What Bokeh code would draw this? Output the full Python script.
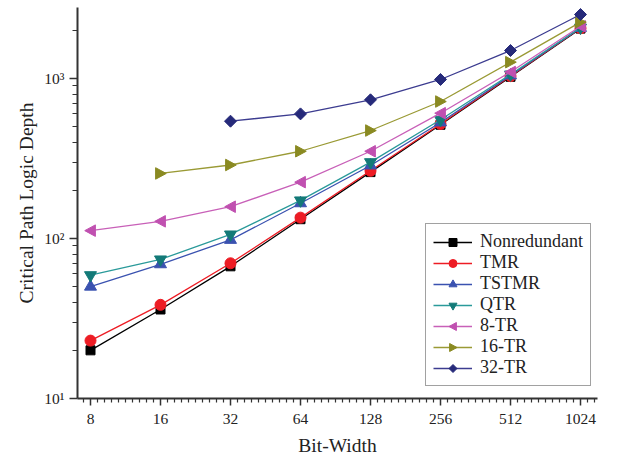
import math
from bokeh.plotting import figure
from bokeh.models import FixedTicker, Range1d, PrintfTickFormatter, Legend, CustomJS
from bokeh.embed import file_html
from bokeh.resources import INLINE

# ---- data ----
bit_widths = [8, 16, 32, 64, 128, 256, 512, 1024]
nonredundant = [20, 36, 67, 132, 260, 514, 1025, 2050]
tmr = [23, 38.5, 70, 135, 265, 520, 1035, 2060]
tstmr = [50, 69, 98, 166, 286, 531, 1045, 2070]
qtr = [59, 74, 106, 173, 300, 552, 1060, 2080]
tr8 = [112, 128, 158, 225, 351, 607, 1098, 2120]
tr16_x = [16, 32, 64, 128, 256, 512, 1024]
tr16 = [255, 288, 351, 473, 718, 1265, 2250]
tr32_x = [32, 64, 128, 256, 512, 1024]
tr32 = [541, 601, 736, 986, 1496, 2512]

y_major = [10, 100, 1000]
y_labels = {10: "10¹", 100: "10²", 1000: "10³"}

# name, x, y, line colour, marker colour, marker, size
series = [
    ("Nonredundant", bit_widths, nonredundant, "#000000", "#000000", "square", 9),
    ("TMR", bit_widths, tmr, "#ed1c24", "#ed1c24", "circle", 11),
    ("TSTMR", bit_widths, tstmr, "#3a52b0", "#3a52b0", "triangle", 12),
    ("QTR", bit_widths, qtr, "#2a9a9a", "#137a78", "inverted_triangle", 12),
    ("8-TR", bit_widths, tr8, "#c860b8", "#c050b0", "@tri_left", 11.5),
    ("16-TR", tr16_x, tr16, "#9a9a35", "#8a8a22", "@tri_right", 11.5),
    ("32-TR", tr32_x, tr32, "#3c3c90", "#262a7a", "@rhomb", 12),
]

def marker_js(points):
    pts = ", ".join(f"[{a}, {b}]" for a, b in points)
    return CustomJS(code=f"""
export default (...argv) => {{
  let ctx = null, i = 0, r = 5, visuals = null
  for (const a of argv) {{
    if (a != null && typeof a === "object" && "ctx" in a) {{
      ctx = a.ctx; i = a.i; r = a.r; visuals = a.visuals
    }}
  }}
  if (ctx == null && argv.length >= 4 && argv[0] != null && typeof argv[0].beginPath === "function") {{
    ctx = argv[0]; i = argv[1]; r = argv[2]; visuals = argv[3]
  }}
  if (ctx == null) return
  const pts = [{pts}]
  ctx.beginPath()
  ctx.moveTo(pts[0][0] * r, pts[0][1] * r)
  for (let k = 1; k < pts.length; k++) ctx.lineTo(pts[k][0] * r, pts[k][1] * r)
  ctx.closePath()
  visuals.fill.apply(ctx, i)
  visuals.line.apply(ctx, i)
}}
""")

marker_defs = {
    "@tri_left": marker_js([(-1, 0), (0.85, -1.0), (0.85, 1.0)]),
    "@tri_right": marker_js([(1, 0), (-0.85, -1.0), (-0.85, 1.0)]),
    "@rhomb": marker_js([(0, -1), (1, 0), (0, 1), (-1, 0)]),
}

FONT = "Liberation Serif"

FRAME_W = 520
FRAME_H = 391
x_start = 2 ** (3 - 13 / 70)
x_end = 2 ** (3 - 13 / 70 + FRAME_W / 70)
y_start = 10
y_end = 10 ** (1 + FRAME_H / 160)

p = figure(width=610, height=462, x_axis_type="log", y_axis_type="log",
           x_range=Range1d(x_start, x_end), y_range=Range1d(y_start, y_end),
           output_backend="svg", toolbar_location=None,
           min_border_left=77, min_border_right=13, min_border_top=7, min_border_bottom=64)
p.outline_line_color = None
p.xgrid.visible = False
p.ygrid.visible = False
p.background_fill_color = "white"

x_minor = []
for k in range(2, 11):
    for i in range(1, 10):
        v = 2 ** (k + i / 10)
        if x_start <= v <= x_end:
            x_minor.append(v)
p.xaxis.ticker = FixedTicker(ticks=bit_widths, minor_ticks=x_minor)
p.xaxis.formatter = PrintfTickFormatter(format="%d")

y_minor = [m * d for d in (10, 100, 1000) for m in range(2, 10) if m * d <= y_end]
p.yaxis.ticker = FixedTicker(ticks=y_major, minor_ticks=y_minor)
p.yaxis.major_label_overrides = y_labels

for ax in (p.xaxis, p.yaxis):
    ax.axis_line_color = "#333333"
    ax.axis_line_width = 2
    ax.major_tick_line_color = "#333333"
    ax.minor_tick_line_color = "#333333"
    ax.major_tick_line_width = 1.5
    ax.minor_tick_line_width = 1.2
    ax.major_tick_in = 0
    ax.minor_tick_in = 0
    ax.major_label_text_font = FONT
    ax.major_label_text_font_size = "15.5px"
    ax.major_label_text_color = "#222222"
    ax.axis_label_text_font = FONT
    ax.axis_label_text_font_size = "19.5px"
    ax.axis_label_text_font_style = "normal"
    ax.axis_label_text_color = "#222222"

p.xaxis.major_tick_out = 7
p.xaxis.minor_tick_out = 4
p.yaxis.major_tick_out = 8
p.yaxis.minor_tick_out = 5
p.xaxis.major_label_standoff = 8
p.yaxis.major_label_standoff = 5
p.xaxis.axis_label = "Bit-Width"
p.yaxis.axis_label = "Critical Path Logic Depth"
p.xaxis.axis_label_standoff = 8
p.yaxis.axis_label_standoff = 4

items = []
for name, xs, ys, lc, mc, marker, size in series:
    r1 = p.line(xs, ys, line_color=lc, line_width=1.3)
    kw = dict(defs=marker_defs) if marker.startswith("@") else {}
    r2 = p.scatter(xs, ys, marker=marker, size=size,
                   fill_color=mc, line_color=mc, **kw)
    items.append((name, [r1, r2]))

legend = Legend(items=items, location=(348, 12))
legend.label_text_font = FONT
legend.label_text_font_size = "18px"
legend.label_text_color = "#222222"
legend.glyph_width = 39
legend.glyph_height = 20
legend.label_standoff = 8
legend.spacing = 0
legend.padding = 7
legend.margin = 0
legend.border_line_color = "#444444"
legend.border_line_width = 1.2
legend.background_fill_alpha = 1
p.add_layout(legend)

open("out.html", "w").write(file_html(p, INLINE))
